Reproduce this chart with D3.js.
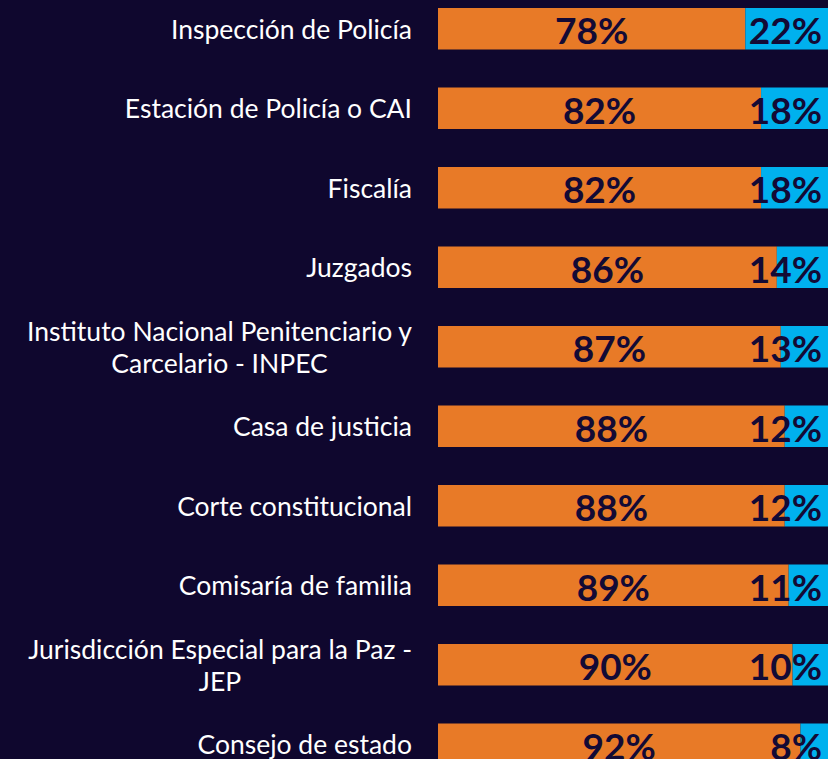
<!DOCTYPE html>
<html>
<head>
<meta charset="utf-8">
<script src="https://cdn.jsdelivr.net/npm/d3@7"></script>
<style>
  html, body { margin: 0; padding: 0; background: #0f072e; overflow: hidden; }
  svg { display: block; }
</style>
</head>
<body>
<div id="chart"></div>
<script>
// categories (some wrap to two lines)
const categories = [
  ["Inspección de Policía"],
  ["Estación de Policía o CAI"],
  ["Fiscalía"],
  ["Juzgados"],
  ["Instituto Nacional Penitenciario y", "Carcelario - INPEC"],
  ["Casa de justicia"],
  ["Corte constitucional"],
  ["Comisaría de familia"],
  ["Jurisdicción Especial para la Paz -", "JEP"],
  ["Consejo de estado"]
];
const seriesA = [78, 82, 82, 86, 87, 88, 88, 89, 90, 92];
const seriesB = [22, 18, 18, 14, 13, 12, 12, 11, 10, 8];

const width = 828, height = 759;
const colA = "#e87a27", colB = "#00b1ee", bg = "#0f072e", dark = "#130a35";

const svg = d3.select("#chart").append("svg")
  .attr("width", width).attr("height", height);
svg.append("rect").attr("width", width).attr("height", height).attr("fill", bg);

const keys = categories.map((d, i) => i);
const y = d3.scaleBand()
  .domain(keys)
  .range([-11, 784])
  .paddingInner(0.478)
  .paddingOuter(0.239);
const x = d3.scaleLinear().domain([0, 100]).range([438, 832]);

const rows = svg.selectAll(".row")
  .data(keys)
  .enter().append("g")
  .attr("class", "row");

rows.append("rect")
  .attr("x", x(0))
  .attr("y", i => y(i))
  .attr("width", i => x(seriesA[i]) - x(0))
  .attr("height", y.bandwidth())
  .attr("fill", colA);

rows.append("rect")
  .attr("x", i => x(seriesA[i]))
  .attr("y", i => y(i))
  .attr("width", i => x(seriesA[i] + seriesB[i]) - x(seriesA[i]))
  .attr("height", y.bandwidth())
  .attr("fill", colB);

// value labels
rows.append("text")
  .attr("x", i => (x(0) + x(seriesA[i])) / 2)
  .attr("y", i => y(i) + y.bandwidth() / 2 + 1)
  .attr("text-anchor", "middle")
  .attr("dominant-baseline", "central")
  .style("font-family", "Lato, sans-serif")
  .style("font-weight", "bold")
  .style("font-size", "37px")
  .attr("fill", dark)
  .text(i => seriesA[i] + "%");

rows.append("text")
  .attr("x", i => x(seriesA[i] + seriesB[i]) - 10)
  .attr("y", i => y(i) + y.bandwidth() / 2 + 1)
  .attr("text-anchor", "end")
  .attr("dominant-baseline", "central")
  .style("font-family", "Lato, sans-serif")
  .style("font-weight", "bold")
  .style("font-size", "37px")
  .attr("fill", dark)
  .text(i => seriesB[i] + "%");

// category labels: block right-aligned at 412, lines centred within block
const lineH = 32.5, labelRight = 412;
rows.append("text")
  .attr("text-anchor", "middle")
  .style("font-family", "Lato, sans-serif")
  .style("font-size", "26.5px")
  .attr("fill", "#ffffff")
  .each(function(i) {
    const lines = categories[i];
    const cy = y(i) + y.bandwidth() / 2;
    const t = d3.select(this);
    const spans = lines.map((ln, k) => t.append("tspan")
        .attr("y", cy + (k - (lines.length - 1) / 2) * lineH)
        .attr("dominant-baseline", "central")
        .text(ln));
    const maxW = d3.max(spans, s => s.node().getComputedTextLength());
    spans.forEach(s => s.attr("x", labelRight - maxW / 2));
  });
</script>
</body>
</html>
